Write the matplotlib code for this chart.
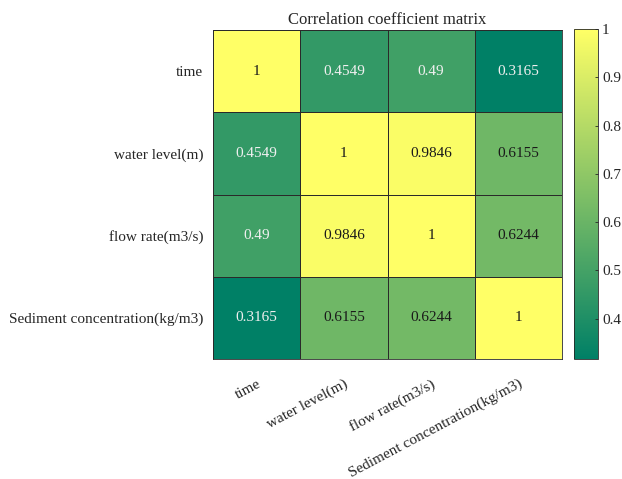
import numpy as np
import matplotlib
matplotlib.use("Agg")
import matplotlib.pyplot as plt

labels = ["time", "water level(m)", "flow rate(m3/s)", "Sediment concentration(kg/m3)"]
corr = np.array([
    [1.0,    0.4549, 0.49,   0.3165],
    [0.4549, 1.0,    0.9846, 0.6155],
    [0.49,   0.9846, 1.0,    0.6244],
    [0.3165, 0.6155, 0.6244, 1.0],
])
cbar_ticks = [0.4, 0.5, 0.6, 0.7, 0.8, 0.9, 1]
cbar_ticklabels = ["0.4", "0.5", "0.6", "0.7", "0.8", "0.9", "1"]

plt.rcParams["font.family"] = ["Liberation Serif", "DejaVu Serif"]

W, H = 622, 479
fig = plt.figure(figsize=(W / 100, H / 100), dpi=100)
ax = fig.add_axes([213 / W, 1 - 359 / H, (562 - 213) / W, (359 - 30) / H])
cax = fig.add_axes([574 / W, 1 - 359 / H, (598 - 574) / W, (359 - 29) / H])

vmin, vmax = corr.min(), corr.max()
n = len(labels)
mesh = ax.pcolormesh(np.arange(n + 1), np.arange(n + 1), corr, cmap="summer",
                     vmin=vmin, vmax=vmax, edgecolor="#2a2a2a", linewidth=0.6)
ax.set_xlim(0, n)
ax.set_ylim(n, 0)

for i in range(n):
    for j in range(n):
        v = corr[i, j]
        color = "#f0f0f0" if v < 0.55 else "#1a1a1a"
        ax.text(j + 0.5, i + 0.5, f"{v:.4g}", ha="center", va="center",
                fontsize=11, color=color)

ax.set_xticks(np.arange(n) + 0.5)
ax.set_yticks(np.arange(n) + 0.5)
ax.set_xticklabels(labels, rotation=28, ha="right", rotation_mode="anchor",
                   fontsize=11, color="#262626")
ax.set_yticklabels(labels, fontsize=11, color="#262626")
ax.tick_params(axis="x", length=0, pad=13)
ax.tick_params(axis="y", length=0, pad=7)
for s in ax.spines.values():
    s.set_color("#2a2a2a")
    s.set_linewidth(0.6)
ax.set_title("Correlation coefficient matrix", fontsize=12, color="#262626", pad=4)

cb = fig.colorbar(mesh, cax=cax)
cb.set_ticks(cbar_ticks)
cb.set_ticklabels(cbar_ticklabels)
cb.ax.tick_params(labelsize=11, colors="#262626", length=2.5, width=0.6,
                  direction="in", pad=3)
cb.outline.set_linewidth(0.6)
cb.outline.set_edgecolor("#262626")

fig.savefig("out.png", dpi=100)
